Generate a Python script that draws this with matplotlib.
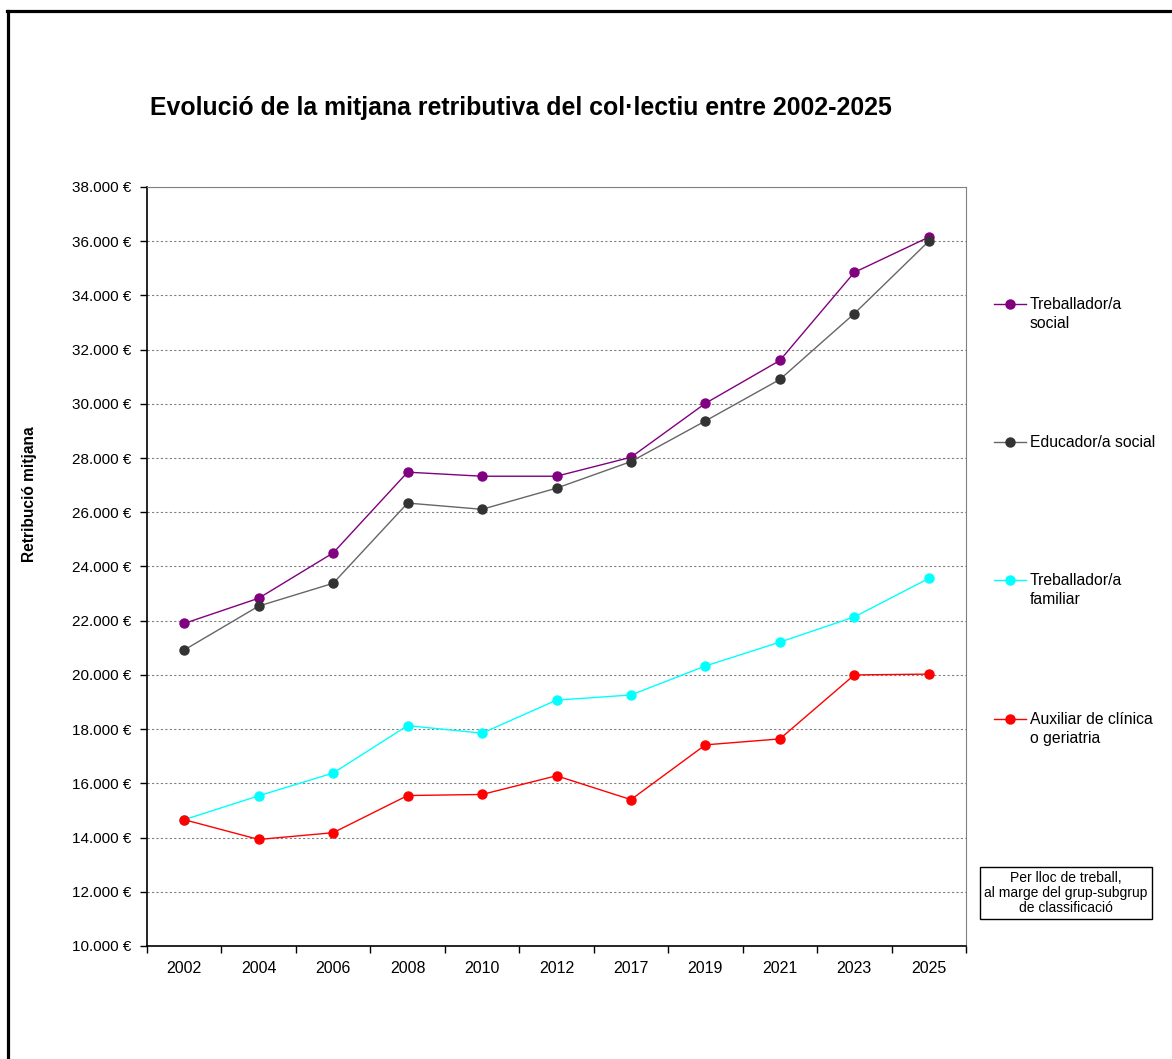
import matplotlib
matplotlib.use("Agg")
import matplotlib.pyplot as plt
from matplotlib.lines import Line2D
from matplotlib.ticker import FixedLocator, FuncFormatter

plt.rcParams['font.family'] = ['Liberation Sans', 'DejaVu Sans']

years = ["2002", "2004", "2006", "2008", "2010", "2012", "2017", "2019", "2021", "2023", "2025"]
treballador_social = [21900, 22830, 24500, 27480, 27330, 27330, 28030, 30020, 31600, 34850, 36150]
educador_social = [20920, 22540, 23380, 26340, 26110, 26890, 27870, 29370, 30900, 33330, 36000]
treballador_familiar = [14660, 15540, 16380, 18130, 17850, 19070, 19260, 20330, 21210, 22140, 23560]
auxiliar_clinica = [14660, 13930, 14180, 15550, 15590, 16280, 15400, 17420, 17640, 20000, 20030]

series_names = ["Treballador/a\nsocial", "Educador/a social", "Treballador/a\nfamiliar", "Auxiliar de clínica\no geriatria"]
series_values = [treballador_social, educador_social, treballador_familiar, auxiliar_clinica]
line_colors = ["#800080", "#666666", "#00FFFF", "#FF0000"]
marker_colors = ["#800080", "#333333", "#00FFFF", "#FF0000"]

title = "Evolució de la mitjana retributiva del col·lectiu entre 2002-2025"
ylabel = "Retribució mitjana"
note = "Per lloc de treball,\nal marge del grup-subgrup\nde classificació"

W, H = 1172, 1059
fig = plt.figure(figsize=(W / 100, H / 100), dpi=100)
ax = fig.add_axes([147 / W, 1 - 946 / H, (966 - 147) / W, (946 - 187) / H])

x = list(range(len(years)))
for vals, lc, mc in zip(series_values, line_colors, marker_colors):
    ax.plot(x, vals, color=lc, lw=1.0, marker='o', markersize=6.5,
            markerfacecolor=mc, markeredgecolor=mc, zorder=3)

ax.set_xlim(-0.5, len(years) - 0.5)
ax.set_ylim(10000, 38000)
ax.set_yticks(range(10000, 38001, 2000))
ax.yaxis.set_major_formatter(FuncFormatter(lambda v, p: f"{int(v):,}".replace(",", ".") + " €"))
ax.tick_params(axis='y', direction='out', length=5, width=1, labelsize=11, pad=6)

ax.xaxis.set_major_locator(FixedLocator([i - 0.5 for i in range(len(years) + 1)]))
ax.xaxis.set_minor_locator(FixedLocator(x))
ax.set_xticklabels([], minor=False)
ax.set_xticklabels(years, minor=True)
ax.tick_params(axis='x', which='major', direction='out', length=5, width=1)
ax.tick_params(axis='x', which='minor', length=0, labelsize=11.5, pad=11)

ax.grid(axis='y', which='major', color='#808080', linestyle=(0, (2, 2)), lw=0.8)
ax.set_axisbelow(True)
ax.spines['left'].set_color('black')
ax.spines['bottom'].set_color('black')
ax.spines['left'].set_linewidth(1.2)
ax.spines['bottom'].set_linewidth(1.2)
ax.spines['top'].set_color('#808080')
ax.spines['right'].set_color('#808080')

fig.text(521 / W, 1 - 108 / H, title, ha='center', va='center', fontsize=17.9, fontweight='bold')
fig.text(30 / W, 1 - 494 / H, ylabel, ha='center', va='center', rotation=90, fontsize=11.2, fontweight='bold')

# legend
leg_y = [304, 442, 580, 719]
for name, lc, mc, yy in zip(series_names, line_colors, marker_colors, leg_y):
    fy = 1 - yy / H
    fig.add_artist(Line2D([994 / W, 1026 / W], [fy, fy], color=lc, lw=1.0))
    fig.add_artist(Line2D([1010 / W], [fy], color=mc, marker='o', markersize=6.5, markerfacecolor=mc, markeredgecolor=mc))
    fig.text(1030 / W, 1 - (yy - 7) / H, name, ha='left', va='top', fontsize=11.3, linespacing=1.3)

# note box
fig.text(1066 / W, 1 - 893 / H, note, ha='center', va='center', fontsize=10, linespacing=1.1,
         bbox=dict(boxstyle='square,pad=0.3', facecolor='white', edgecolor='black', lw=1.0))

# outer frame (top and left)
fig.add_artist(Line2D([7 / W, 1.0], [1 - 11 / H, 1 - 11 / H], color='black', lw=2.3))
fig.add_artist(Line2D([8 / W, 8 / W], [0, 1 - 11 / H], color='black', lw=2.3))

fig.savefig("out.png", dpi=100)
